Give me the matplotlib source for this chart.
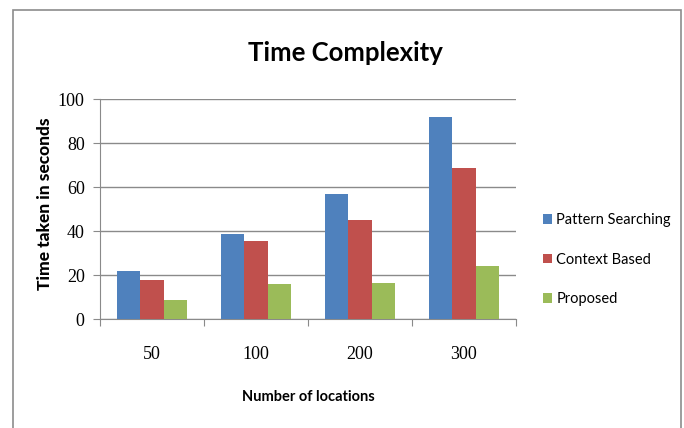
import numpy as np
import matplotlib.pyplot as plt
from matplotlib.patches import Rectangle

# data
locations = ["50", "100", "200", "300"]
pattern_searching = [22, 38.6, 57, 92]
context_based = [17.7, 35.7, 45, 68.8]
proposed = [8.9, 16, 16.5, 24.2]
series_names = ["Pattern Searching", "Context Based", "Proposed"]
colors = ["#4F81BD", "#C0504D", "#9BBB59"]

fig = plt.figure(figsize=(6.84, 4.28), dpi=100)
ax = fig.add_axes([100/684, 1 - 319.3/428, 416/684, 220/428])

# grey border round the chart area
fig.patches.append(Rectangle((13/684, -0.05), 668/684, 1.05 - 10/428,
                             transform=fig.transFigure, fill=False,
                             edgecolor="#8c8c8c", linewidth=1.2))

x = np.arange(len(locations))
w = 0.222
for i, vals in enumerate([pattern_searching, context_based, proposed]):
    ax.bar(x + (i - 1) * w, vals, w, color=colors[i], label=series_names[i], zorder=3)

ax.set_xlim(-0.5, 3.5)
ax.set_ylim(0, 100)
ax.set_yticks(range(0, 101, 20))
ax.yaxis.grid(True, color="#8a8a8a", linewidth=1.0, zorder=0)

for s in ["top", "right"]:
    ax.spines[s].set_visible(False)
for s in ["left", "bottom"]:
    ax.spines[s].set_color("#8a8a8a")

# ticks at category boundaries on x, labels centred
ax.set_xticks(np.arange(-0.5, 4.0, 1.0))
ax.set_xticklabels([])
ax.set_xticks(x, minor=True)
ax.set_xticklabels(locations, minor=True, family="Liberation Serif", fontsize=13)
ax.tick_params(axis="x", which="major", length=5, color="#8a8a8a")
ax.tick_params(axis="x", which="minor", length=0, pad=19)
ax.tick_params(axis="y", length=5, color="#8a8a8a", pad=6)
for lab in ax.get_yticklabels():
    lab.set_family("Liberation Serif")
    lab.set_fontsize(13)

fig.text(345/684, 1 - 53/428, "Time Complexity", ha="center", va="center",
         family="Lato", fontweight="bold", fontsize=18.5)
ax.set_xlabel("Number of locations", family="Lato", fontweight="bold", fontsize=10.5, labelpad=20)
fig.text(45/684, 1 - 204/428, "Time taken in seconds", rotation=90, ha="center", va="center",
         family="Lato", fontweight="black", fontsize=12.5)

leg = fig.legend(loc="upper left", bbox_to_anchor=(530/684, 1 - 200/428), frameon=False,
                 prop={"family": "Lato", "size": 10.5}, handlelength=0.6, handleheight=0.6,
                 handletextpad=0.3, labelspacing=1.75)

fig.savefig("out.png", dpi=100)
